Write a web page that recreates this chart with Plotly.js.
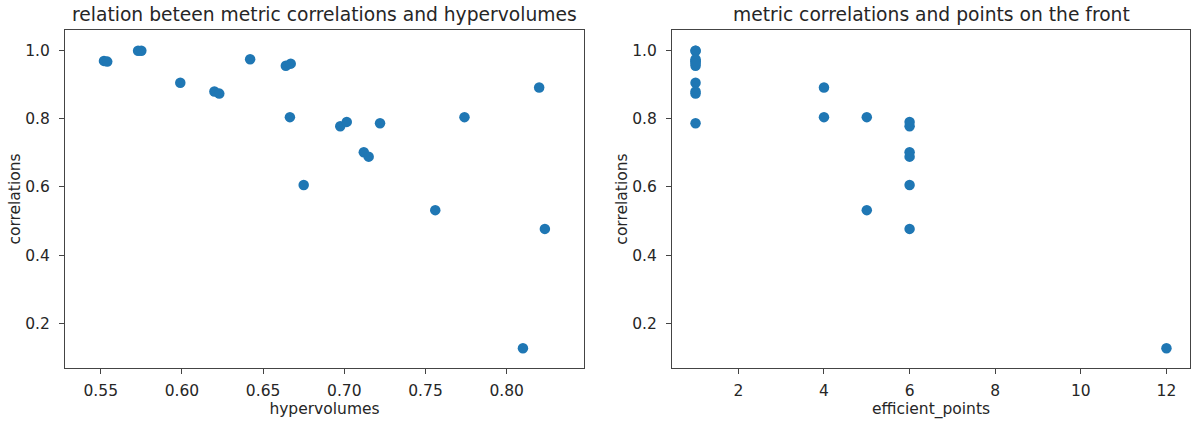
<!DOCTYPE html>
<html>
<head>
<meta charset="utf-8">
<script src="https://cdn.plot.ly/plotly-3.0.1.min.js"></script>
<style>html,body{margin:0;padding:0;background:#fff;}#chart{width:1192px;height:421px;}</style>
</head>
<body>
<div id="chart"></div>
<script>
// Data
const hypervolumes = [0.552, 0.554, 0.573, 0.575, 0.599, 0.620, 0.623, 0.642, 0.664, 0.667,
  0.6665, 0.675, 0.6975, 0.7015, 0.722, 0.712, 0.715, 0.756, 0.774, 0.820, 0.8235, 0.810];
const correlations = [0.970, 0.968, 1.000, 1.000, 0.906, 0.880, 0.874, 0.975, 0.956, 0.962,
  0.805, 0.606, 0.778, 0.791, 0.787, 0.702, 0.689, 0.532, 0.805, 0.892, 0.477, 0.127];
const efficientPoints = [1, 1, 1, 1, 1, 1, 1, 1, 1, 1,
  5, 6, 6, 6, 1, 6, 6, 5, 4, 4, 6, 12];

const titles = ["relation beteen metric correlations and hypervolumes", "metric correlations and points on the front"];
const xLabels = ["hypervolumes", "efficient_points"];
const yLabel = "correlations";
const yTicks = [0.2, 0.4, 0.6, 0.8, 1.0];
const yTickText = ["0.2", "0.4", "0.6", "0.8", "1.0"];
const x1Ticks = [0.55, 0.60, 0.65, 0.70, 0.75, 0.80];
const x1TickText = ["0.55", "0.60", "0.65", "0.70", "0.75", "0.80"];
const x2Ticks = [2, 4, 6, 8, 10, 12];

const blue = "#1f77b4";
const W = 1192, H = 421;
const ML = 65, MR = 2, MT = 30, MB = 53;
const innerW = W - ML - MR;
const dom1 = [0, (584 - ML) / innerW];
const dom2 = [(672 - ML) / innerW, 1];
const FAM = "DejaVu Sans, sans-serif";
const TXT = "#262626";

const traces = [
  {type: "scatter", mode: "markers", x: hypervolumes, y: correlations, xaxis: "x", yaxis: "y",
   marker: {color: blue, size: 10.5}, hoverinfo: "x+y"},
  {type: "scatter", mode: "markers", x: efficientPoints, y: correlations, xaxis: "x2", yaxis: "y2",
   marker: {color: blue, size: 10.5}, hoverinfo: "x+y"}
];

function axisBase(extra) {
  return Object.assign({
    showgrid: false, zeroline: false, showline: true, linecolor: "#444", linewidth: 1, mirror: true,
    ticks: "outside", ticklen: 5, tickwidth: 1, tickcolor: "#444", automargin: true,
    tickfont: {family: FAM, size: 15.5, color: TXT}
  }, extra);
}

const layout = {
  width: W, height: H,
  margin: {l: ML, r: MR, t: MT, b: MB},
  paper_bgcolor: "#fff", plot_bgcolor: "#fff",
  showlegend: false,
  font: {family: FAM, size: 15.5, color: TXT},
  xaxis: axisBase({domain: dom1, range: [0.528, 0.8476], anchor: "y",
    tickvals: x1Ticks, ticktext: x1TickText, ticklabelstandoff: 3,
    title: {text: xLabels[0], standoff: 4, font: {family: FAM, size: 15.5, color: TXT}}}),
  yaxis: axisBase({domain: [0, 1], range: [0.0688, 1.0607], anchor: "x",
    tickvals: yTicks, ticktext: yTickText, ticklabelstandoff: 6,
    title: {text: yLabel, standoff: 0, font: {family: FAM, size: 15.5, color: TXT}}}),
  xaxis2: axisBase({domain: dom2, range: [0.45, 12.55], anchor: "y2",
    tickvals: x2Ticks, ticklabelstandoff: 3,
    title: {text: xLabels[1], standoff: 4, font: {family: FAM, size: 15.5, color: TXT}}}),
  yaxis2: axisBase({domain: [0, 1], range: [0.0688, 1.0607], anchor: "x2",
    tickvals: yTicks, ticktext: yTickText, ticklabelstandoff: 6,
    title: {text: yLabel, standoff: 0, font: {family: FAM, size: 15.5, color: TXT}}}),
  annotations: [
    {text: titles[0], xref: "paper", yref: "paper", x: (dom1[0] + dom1[1]) / 2, y: 1, yshift: 3,
     xanchor: "center", yanchor: "bottom", showarrow: false, font: {family: FAM, size: 18.7, color: TXT}},
    {text: titles[1], xref: "paper", yref: "paper", x: (dom2[0] + dom2[1]) / 2, y: 1, yshift: 3,
     xanchor: "center", yanchor: "bottom", showarrow: false, font: {family: FAM, size: 18.7, color: TXT}}
  ]
};

Plotly.newPlot("chart", traces, layout, {displayModeBar: false, staticPlot: true});
</script>
</body>
</html>
